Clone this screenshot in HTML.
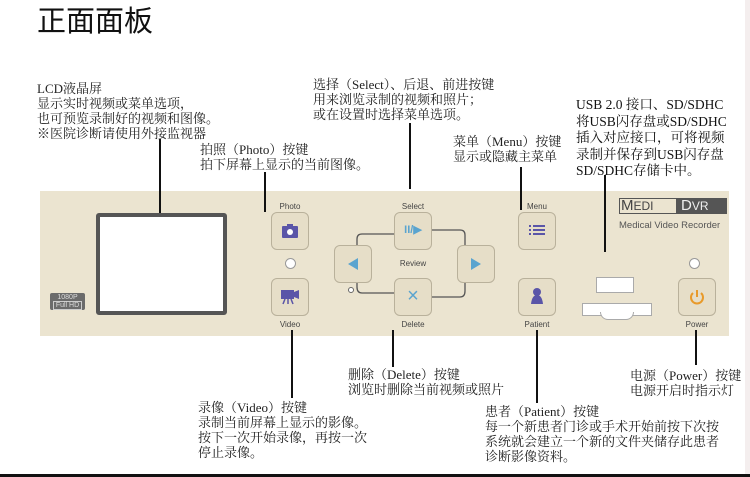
<!DOCTYPE html>
<html><head><meta charset="utf-8"><style>
*{margin:0;padding:0;box-sizing:border-box}
body{width:750px;height:477px;background:#fff;position:relative;overflow:hidden;font-family:"Liberation Serif","Noto Serif CJK SC",serif;color:#222}
.t{position:absolute;font-size:13px;line-height:15px;white-space:nowrap}
.v{position:absolute;width:2px;background:#111}
.pn{position:absolute;left:40px;top:191px;width:689px;height:145px;background:#ebe4d0}
.b{position:absolute;width:38px;height:38px;border:1.5px solid #b9b19b;border-radius:6px;background:#e6dec8}
.lb{position:absolute;font-family:"Liberation Sans",sans-serif;font-size:8px;color:#444;width:60px;text-align:center}
.led{position:absolute;width:11px;height:11px;border-radius:50%;background:#fff;border:1px solid #999}
</style></head><body>
<div class="t" style="left:37px;top:5px;font-family:'Liberation Sans','Noto Sans CJK SC',sans-serif;font-size:29px;line-height:34px;color:#111">正面面板</div>

<div class="t" style="left:37px;top:81px">LCD液晶屏<br>显示实时视频或菜单选项，<br>也可预览录制好的视频和图像。<br>※医院诊断请使用外接监视器</div>
<div class="t" style="left:200px;top:142px">拍照（Photo）按键<br>拍下屏幕上显示的当前图像。</div>
<div class="t" style="left:313px;top:77px">选择（Select）、后退、前进按键<br>用来浏览录制的视频和照片；<br>或在设置时选择菜单选项。</div>
<div class="t" style="left:453px;top:134px">菜单（Menu）按键<br>显示或隐藏主菜单</div>
<div class="t" style="left:576px;top:97px;line-height:16.5px;font-size:13.5px;color:#111">USB 2.0 接口、SD/SDHC<br>将USB闪存盘或SD/SDHC<br>插入对应接口，可将视频<br>录制并保存到USB闪存盘<br>SD/SDHC存储卡中。</div>
<div class="t" style="left:348px;top:367px">删除（Delete）按键<br>浏览时删除当前视频或照片</div>
<div class="t" style="left:198px;top:400px">录像（Video）按键<br>录制当前屏幕上显示的影像。<br>按下一次开始录像，再按一次<br>停止录像。</div>
<div class="t" style="left:485px;top:404px">患者（Patient）按键<br>每一个新患者门诊或手术开始前按下次按<br>系统就会建立一个新的文件夹储存此患者<br>诊断影像资料。</div>
<div class="t" style="left:630px;top:368px">电源（Power）按键<br>电源开启时指示灯</div>
<div style="position:absolute;left:0;top:474px;width:750px;height:3px;background:#111"></div>

<div class="pn"></div>
<div class="v" style="left:159px;top:139px;height:77px"></div>
<div class="v" style="left:264px;top:172px;height:40px"></div>
<div class="v" style="left:409px;top:123px;height:66px"></div>
<div class="v" style="left:520px;top:167px;height:43px"></div>
<div class="v" style="left:604px;top:175px;height:77px"></div>
<div class="v" style="left:291px;top:330px;height:68px"></div>
<div class="v" style="left:392px;top:330px;height:37px"></div>
<div class="v" style="left:536px;top:330px;height:73px"></div>
<div class="v" style="left:695px;top:330px;height:35px"></div>

<div style="position:absolute;left:96px;top:213px;width:131px;height:102px;border:4px solid #555;border-radius:3px;background:#fff"></div>
<div style="position:absolute;left:50px;top:293px;width:35px;height:17px;background:#6b6b6b;border-radius:2px;color:#ddd;font-family:'Liberation Sans',sans-serif;font-size:7px;line-height:8px;text-align:center;padding-top:1px">1080P<br><span style="border:1px solid #ccc;padding:0 2px">Full HD</span></div>

<svg style="position:absolute;left:0;top:0" width="750" height="477">
<g fill="none" stroke="#555" stroke-width="1.3">
<path d="M357 245 v-6 q0-5 5-5 h32"/><path d="M432 230 h28 q5 0 5 5 v10"/>
<path d="M357 282 v5 q0 6 5 6 h32"/><path d="M432 297 h28 q5 0 5-6 v-9"/>
</g>
<circle cx="351" cy="290" r="2.5" fill="#fff" stroke="#666"/>
</svg>

<div class="lb" style="left:260px;top:202px">Photo</div>
<div class="b" style="left:271px;top:212px"></div>
<svg style="position:absolute;left:281px;top:222px" width="18" height="18"><rect x="1" y="4" width="16" height="12" rx="1" fill="#5a55a8"/><rect x="6" y="2" width="6" height="3" fill="#5a55a8"/><circle cx="9" cy="10" r="3" fill="#fff"/></svg>
<div class="led" style="left:285px;top:258px"></div>
<div class="b" style="left:271px;top:278px"></div>
<svg style="position:absolute;left:280px;top:288px" width="20" height="18"><rect x="1" y="2" width="13" height="9" fill="#5a55a8"/><polygon points="14,4 19,2 19,11 14,9" fill="#5a55a8"/><path d="M5 11 l-2 5 M8 11 v5 M11 11 l2 5" stroke="#5a55a8" stroke-width="1.5"/></svg>
<div class="lb" style="left:260px;top:320px">Video</div>

<div class="b" style="left:334px;top:245px"></div>
<svg style="position:absolute;left:345px;top:256px" width="16" height="16"><polygon points="13,2 13,14 3,8" fill="#5aa4cf"/></svg>
<div class="lb" style="left:383px;top:202px">Select</div>
<div class="b" style="left:394px;top:212px"></div>
<div style="position:absolute;left:394px;top:223px;width:38px;text-align:center;font-family:'Liberation Sans',sans-serif;font-weight:bold;font-size:11px;color:#5aa4cf">II/▶</div>
<div class="lb" style="left:383px;top:259px">Review</div>
<div class="b" style="left:394px;top:278px"></div>
<div style="position:absolute;left:394px;top:284px;width:38px;text-align:center;font-family:'Liberation Sans',sans-serif;font-size:20px;line-height:24px;color:#5aa4cf">×</div>
<div class="lb" style="left:383px;top:320px">Delete</div>
<div class="b" style="left:457px;top:245px"></div>
<svg style="position:absolute;left:468px;top:256px" width="16" height="16"><polygon points="3,2 3,14 13,8" fill="#5aa4cf"/></svg>

<div class="lb" style="left:507px;top:202px">Menu</div>
<div class="b" style="left:518px;top:212px"></div>
<svg style="position:absolute;left:528px;top:223px" width="18" height="16"><g fill="#5a55a8"><rect x="1" y="2" width="2" height="2"/><rect x="5" y="2" width="12" height="2"/><rect x="1" y="6" width="2" height="2"/><rect x="5" y="6" width="12" height="2"/><rect x="1" y="10" width="2" height="2"/><rect x="5" y="10" width="12" height="2"/></g></svg>
<div class="b" style="left:518px;top:278px"></div>
<svg style="position:absolute;left:528px;top:287px" width="18" height="20"><circle cx="9" cy="5" r="4" fill="#5a55a8"/><path d="M3 17 Q4 8 9 8 Q14 8 15 17 Z" fill="#5a55a8"/></svg>
<div class="lb" style="left:507px;top:320px">Patient</div>

<div style="position:absolute;left:596px;top:277px;width:38px;height:16px;background:#fff;border:1px solid #aaa"></div>
<div style="position:absolute;left:582px;top:303px;width:70px;height:13px;background:#fff;border:1px solid #aaa"></div>
<div style="position:absolute;left:600px;top:312px;width:34px;height:8px;background:#fff;border:1px solid #aaa;border-top:none;border-radius:0 0 17px 17px"></div>

<div style="position:absolute;left:619px;top:198px;width:108px;height:16px;border:1.5px solid #555;background:#ebe4d0"></div>
<div style="position:absolute;left:621px;top:198px;font-family:'Liberation Sans',sans-serif;font-size:15px;line-height:16px;color:#444">M<span style="font-size:12px">EDI</span></div>
<div style="position:absolute;left:676px;top:198px;width:51px;height:16px;background:#555;color:#eee;font-family:'Liberation Sans',sans-serif;font-size:15px;line-height:16px;padding-left:5px">D<span style="font-size:12px">VR</span></div>
<div style="position:absolute;left:619px;top:220px;font-family:'Liberation Sans',sans-serif;font-size:9.5px;color:#555;white-space:nowrap">Medical Video Recorder</div>
<div class="led" style="left:689px;top:258px"></div>
<div class="b" style="left:678px;top:278px"></div>
<svg style="position:absolute;left:688px;top:288px" width="18" height="18"><path d="M5 5 A6 6 0 1 0 13 5" fill="none" stroke="#e89a2a" stroke-width="2"/><path d="M9 2 v7" stroke="#e89a2a" stroke-width="2"/></svg>
<div class="lb" style="left:667px;top:320px">Power</div>
<div style="position:absolute;left:745px;top:0;width:5px;height:474px;background:#f4eeee"></div>
</body></html>
